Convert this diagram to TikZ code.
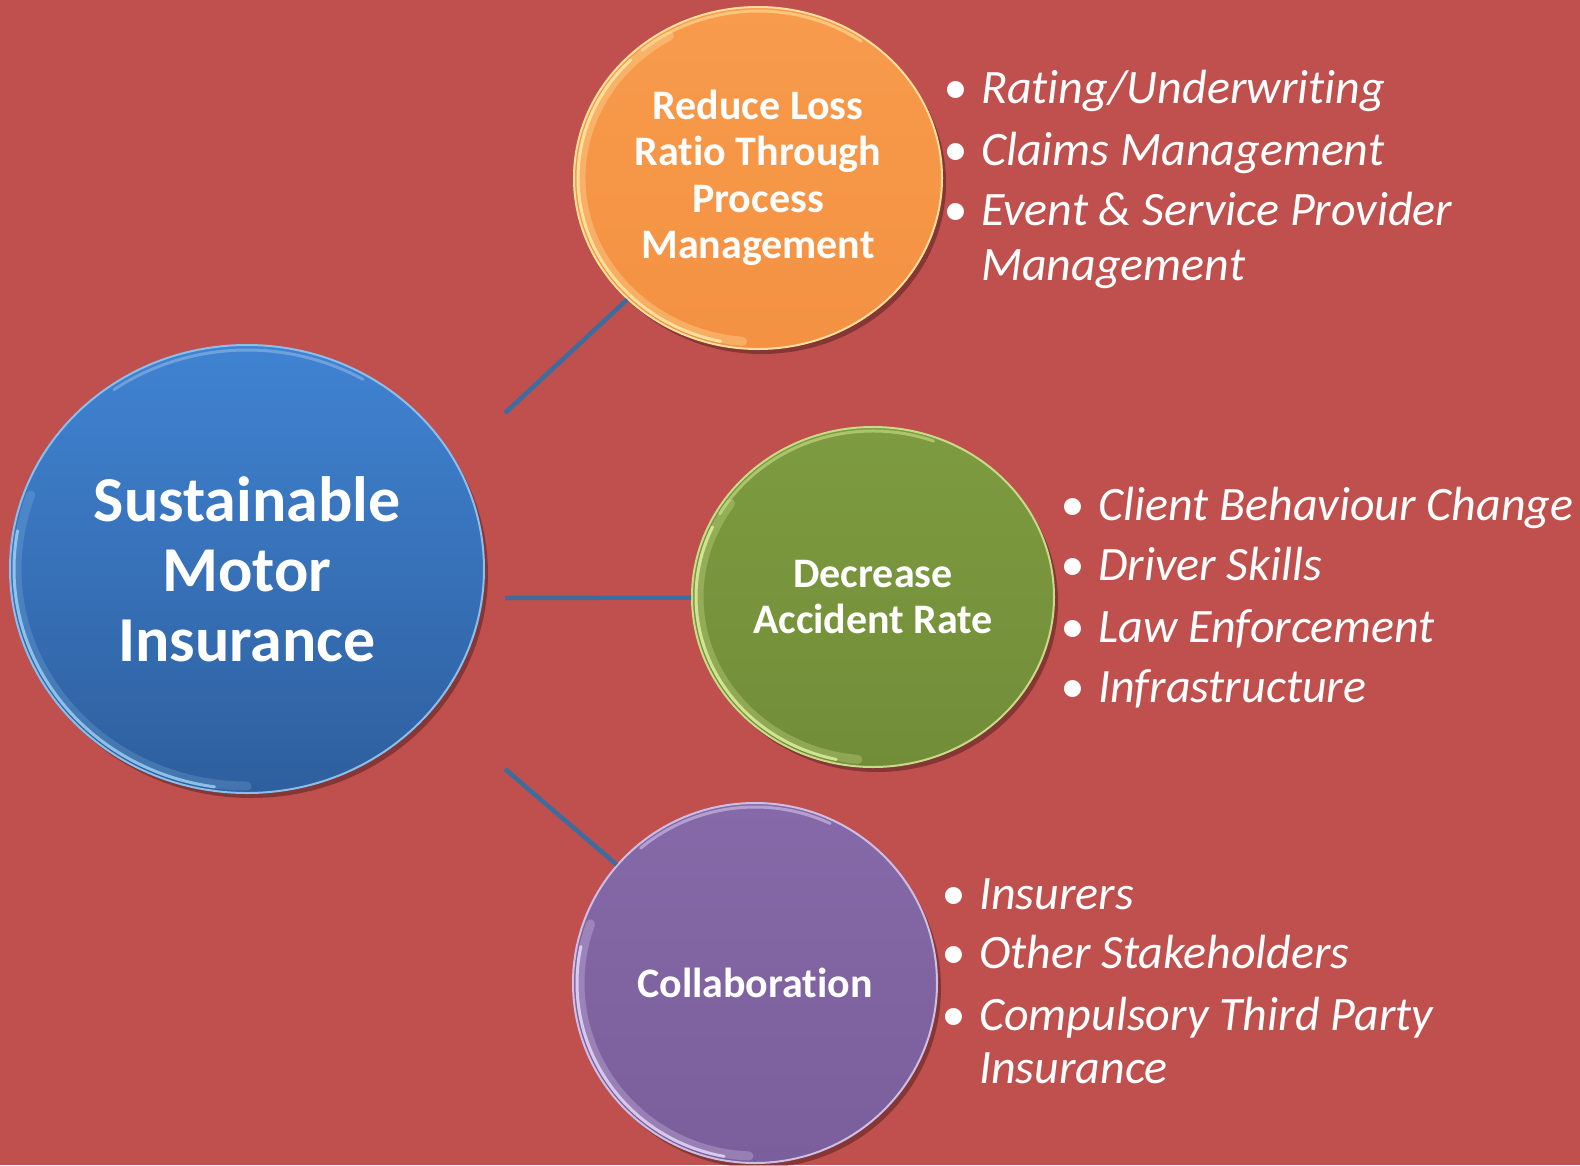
\documentclass[tikz,border=0pt]{standalone}
\usepackage{fontspec}
\setmainfont{Carlito}[Ligatures={NoCommon}]
\usetikzlibrary{shapes.geometric,shadows}
\definecolor{bg}{HTML}{C0504D}
\definecolor{conncol}{HTML}{3F6C9E}
\definecolor{blueT}{HTML}{4083D2}
\definecolor{blueB}{HTML}{2E5F9E}
\definecolor{blueRim}{HTML}{A8D8F8}
\definecolor{orT}{HTML}{F89B4C}
\definecolor{orB}{HTML}{F49142}
\definecolor{orRim}{HTML}{FFF0B0}
\definecolor{grT}{HTML}{7D9B40}
\definecolor{grB}{HTML}{728D38}
\definecolor{grRim}{HTML}{E8F7A8}
\definecolor{puT}{HTML}{8569A8}
\definecolor{puB}{HTML}{7B5F9C}
\definecolor{puRim}{HTML}{EEE2FF}
\newcommand{\bul}{\makebox[38pt][l]{•}}
\tikzset{
  bubble/.style={ellipse, inner sep=0pt, text=white, align=center, line width=2pt,
    font=\bfseries\fontsize{42}{46.5}\selectfont,
    drop shadow={shadow xshift=4pt, shadow yshift=-5pt, opacity=0.3, fill=black}},
  conn/.style={draw=conncol, line width=4.5pt},
  itemtxt/.style={anchor=base west, inner sep=0pt, text=white,
    font=\itshape\fontsize{48}{55}\selectfont},
  hl/.style={white, line width=3pt, opacity=0.75, line cap=round},
  hlsoft/.style={white, line width=9pt, opacity=0.18, line cap=round},
  hltop/.style={white, line width=3pt, opacity=0.25, line cap=round}
}
\begin{document}
\begin{tikzpicture}[x=1pt,y=-1pt]
\fill[bg] (0,0) rectangle (1580,1165);
\useasboundingbox (0,0) rectangle (1580,1165);

% circles
\node[bubble, minimum width=474pt, minimum height=448pt, top color=blueT, bottom color=blueB,
  draw=blueRim!70!blueT, font=\bfseries\fontsize{64}{70}\selectfont] (core) at (247,569)
  {Sustainable\\Motor\\Insurance};
\node[bubble, minimum width=368pt, minimum height=342pt, top color=orT, bottom color=orB,
  draw=orRim!80!orT] (loss) at (758,178)
  {Reduce Loss\\Ratio Through\\Process\\Management};
\node[bubble, minimum width=362pt, minimum height=340pt, top color=grT, bottom color=grB,
  draw=grRim!70!grT] (acc) at (873,597)
  {Decrease\\Accident Rate};
\node[bubble, minimum width=364pt, minimum height=360pt, top color=puT, bottom color=puB,
  draw=puRim!70!puT] (collab) at (755,983)
  {Collaboration};

% rim highlights
\draw[hlsoft, blueRim] (core.center) ++(160:230pt and 217pt) arc[start angle=160, end angle=270, x radius=230pt, y radius=217pt];
\draw[hl, blueRim] (core.center) ++(170:233pt and 220pt) arc[start angle=170, end angle=262, x radius=233pt, y radius=220pt];
\draw[hltop] (core.center) ++(60:232pt and 219pt) arc[start angle=60, end angle=125, x radius=232pt, y radius=219pt];

\draw[hlsoft, orRim, opacity=0.3] (loss.center) ++(120:177pt and 164pt) arc[start angle=120, end angle=265, x radius=177pt, y radius=164pt];
\draw[hl, orRim] (loss.center) ++(135:180pt and 167pt) arc[start angle=135, end angle=258, x radius=180pt, y radius=167pt];
\draw[hltop, orRim, opacity=0.5] (loss.center) ++(55:180pt and 167pt) arc[start angle=55, end angle=130, x radius=180pt, y radius=167pt];

\draw[hlsoft, grRim, opacity=0.25] (acc.center) ++(145:174pt and 163pt) arc[start angle=145, end angle=265, x radius=174pt, y radius=163pt];
\draw[hl, grRim] (acc.center) ++(155:177pt and 166pt) arc[start angle=155, end angle=258, x radius=177pt, y radius=166pt];
\draw[hltop, grRim, opacity=0.45] (acc.center) ++(70:177pt and 166pt) arc[start angle=70, end angle=150, x radius=177pt, y radius=166pt];

\draw[hlsoft, puRim, opacity=0.25] (collab.center) ++(160:175pt and 173pt) arc[start angle=160, end angle=268, x radius=175pt, y radius=173pt];
\draw[hl, puRim] (collab.center) ++(168:178pt and 176pt) arc[start angle=168, end angle=260, x radius=178pt, y radius=176pt];
\draw[hltop, puRim, opacity=0.45] (collab.center) ++(65:178pt and 176pt) arc[start angle=65, end angle=130, x radius=178pt, y radius=176pt];

% connectors
\coordinate (c1) at (505,413);
\coordinate (c2) at (505,598);
\coordinate (c3) at (505,769);
\draw[conn] (c1) -- (loss);
\draw[conn] (c2) -- (acc);
\draw[conn] (c3) -- (collab);

% bullet lists
\node[itemtxt] (o1) at (943,103) {\bul Rating/Underwriting};
\node[itemtxt] (o2) at (943,165) {\bul Claims Management};
\node[itemtxt] (o3) at (943,225) {\bul Event \& Service Provider};
\node[itemtxt] (o3b) at (981,280) {Management};

\node[itemtxt] (g1) at (1060,520) {\bul Client Behaviour Change};
\node[itemtxt] (g2) at (1060,580) {\bul Driver Skills};
\node[itemtxt] (g3) at (1060,642) {\bul Law Enforcement};
\node[itemtxt] (g4) at (1060,702) {\bul Infrastructure};

\node[itemtxt] (p1) at (941,909) {\bul Insurers};
\node[itemtxt] (p2) at (941,968) {\bul Other Stakeholders};
\node[itemtxt] (p3) at (941,1030) {\bul Compulsory Third Party};
\node[itemtxt] (p3b) at (979,1083) {Insurance};
\end{tikzpicture}
\end{document}
